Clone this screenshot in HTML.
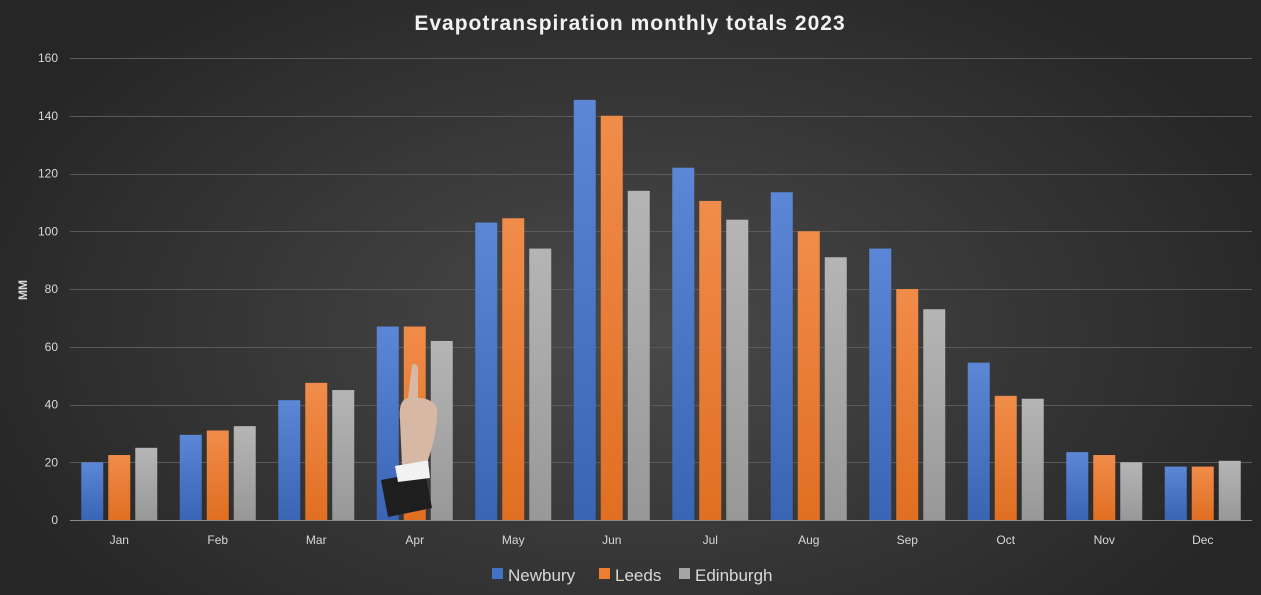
<!DOCTYPE html>
<html><head><style>
html,body{margin:0;padding:0;}
body{width:1261px;height:595px;overflow:hidden;background:radial-gradient(ellipse 700px 420px at 630px 330px,#4a4a4a 0%,#3a3a3a 45%,#262626 100%);font-family:"Liberation Sans",sans-serif;}
</style></head><body>
<svg width="1261" height="595" xmlns="http://www.w3.org/2000/svg" style="position:absolute;left:0;top:0">
<defs>
<linearGradient id="gb" x1="0" y1="0" x2="0" y2="1"><stop offset="0" stop-color="#5b87d6"/><stop offset="1" stop-color="#3a64b4"/></linearGradient>
<linearGradient id="go" x1="0" y1="0" x2="0" y2="1"><stop offset="0" stop-color="#f08c4a"/><stop offset="1" stop-color="#e06f22"/></linearGradient>
<linearGradient id="gg" x1="0" y1="0" x2="0" y2="1"><stop offset="0" stop-color="#b5b5b5"/><stop offset="1" stop-color="#989898"/></linearGradient>
</defs>
<text x="630" y="30" text-anchor="middle" fill="#f2f2f2" font-size="21" font-weight="bold" letter-spacing="1">Evapotranspiration monthly totals 2023</text>
<g id="grid" stroke="#5a5a5a" stroke-width="1"></g>
<g id="yl" fill="#d9d9d9" font-size="12" text-anchor="end"></g>
<text transform="translate(27,290) rotate(-90)" text-anchor="middle" fill="#d9d9d9" font-size="12" font-weight="bold">MM</text>
<g id="bars"></g>
<line x1="70" y1="520.5" x2="1252" y2="520.5" stroke="#8a8a8a"/>
<g id="xl" fill="#d9d9d9" font-size="12" text-anchor="middle"></g>
<g font-size="17" fill="#d9d9d9">
<rect x="492" y="568" width="11" height="11" fill="#4472c4"/><text x="508" y="581">Newbury</text>
<rect x="599" y="568" width="11" height="11" fill="#ed7d31"/><text x="615" y="581">Leeds</text>
<rect x="679" y="568" width="11" height="11" fill="#a5a5a5"/><text x="695" y="581">Edinburgh</text>
</g>
<g id="hand">
<polygon points="381,480 425,472 432,508 388,517" fill="#1e1e1e"/>
<polygon points="395,466 428,460 430,478 398,482" fill="#f2f2f2"/>
<path d="M402,465 L400,420 Q398,400 408,398 L412,365 Q416,362 418,368 L418,398 Q432,398 437,408 Q438,430 428,460 Z" fill="#d6b8a4"/>
</g>
</svg>
<script>
const ns="http://www.w3.org/2000/svg";
function el(t,a,p,txt){const e=document.createElementNS(ns,t);for(const k in a)e.setAttribute(k,a[k]);if(txt!==undefined)e.textContent=txt;document.getElementById(p).appendChild(e);}
const y=v=>520-v*2.8875;
for(let v=20;v<=160;v+=20)el("line",{x1:70,x2:1252,y1:Math.round(y(v))+0.5,y2:Math.round(y(v))+0.5},"grid");
for(let v=0;v<=160;v+=20)el("text",{x:58,y:y(v)+4},"yl",v);
const m=["Jan","Feb","Mar","Apr","May","Jun","Jul","Aug","Sep","Oct","Nov","Dec"];
const d=[[20,22.5,25],[29.5,31,32.5],[41.5,47.5,45],[67,67,62],[103,104.5,94],[145.5,140,114],[122,110.5,104],[113.5,100,91],[94,80,73],[54.5,43,42],[23.5,22.5,20],[18.5,18.5,20.5]];
const g=["url(#gb)","url(#go)","url(#gg)"];
d.forEach((r,i)=>{const c=70+98.5*(i+0.5);
 r.forEach((v,j)=>{const x=c+(j-1)*27-11;el("rect",{x:x,y:y(v),width:22,height:520-y(v),fill:g[j]},"bars");});
 el("text",{x:c,y:544},"xl",m[i]);});
document.getElementById("bars").parentNode.appendChild(document.getElementById("hand"));
</script>
</body></html>
